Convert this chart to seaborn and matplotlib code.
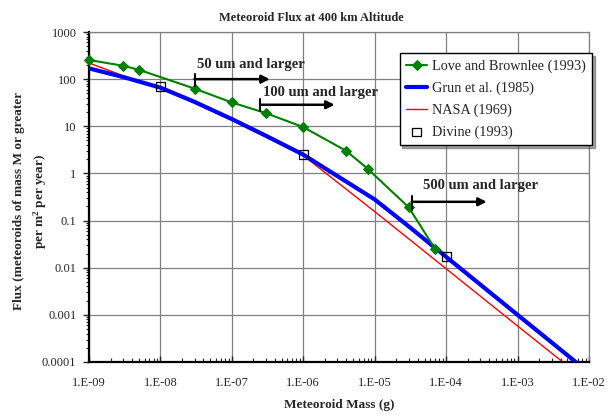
import numpy as np
import pandas as pd
import matplotlib
matplotlib.use("Agg")
import matplotlib.pyplot as plt
import seaborn as sns

# Values
love_mass = [1e-9, 3e-9, 5e-9, 3e-8, 1e-7, 3e-7, 1e-6, 4e-6, 8e-6, 3e-5, 7e-5]
love_flux = [255, 192, 158, 63, 32, 19, 9.6, 3.0, 1.25, 0.19, 0.025]

grun_mass = [1e-9, 3e-9, 1e-8, 3e-8, 1e-7, 3e-7, 1e-6, 3e-6, 1e-5, 3e-5, 1e-4, 3e-4, 1e-3, 3e-3, 1e-2]
grun_flux = [169, 111, 66, 33, 14.2, 6.3, 2.5, 0.88, 0.28, 0.075, 0.017, 0.0044, 0.001, 0.00026, 0.000059]

nasa_mass = [1e-9, 3e-9, 1e-8, 3e-8, 1e-7, 3e-7, 1e-6, 1e-5, 1e-4, 1e-3, 1e-2]
nasa_flux = [220, 118, 66, 31, 13.5, 5.9, 2.4, 0.155, 0.0095, 0.00058, 0.000036]

divine_mass = [1e-8, 1e-6, 1e-4]
divine_flux = [70, 2.5, 0.017]

xtick_vals = [1e-9, 1e-8, 1e-7, 1e-6, 1e-5, 1e-4, 1e-3, 1e-2]
xtick_labels = ["1.E-09", "1.E-08", "1.E-07", "1.E-06", "1.E-05", "1.E-04", "1.E-03", "1.E-02"]
ytick_vals = [1e-4, 1e-3, 1e-2, 1e-1, 1, 10, 100, 1000]
ytick_labels = ["0.0001", "0.001", "0.01", "0.1", "1", "10", "100", "1000"]

# size-threshold annotations
ann_labels = ["50 um and larger", "100 um and larger", "500 um and larger"]
ann_start = [3e-8, 2.5e-7, 3.3e-5]
ann_end = [3.4e-7, 2.75e-6, 3.7e-4]
ann_y = [100, 28.6, 0.25]
ann_bar_lo = [70, 20.6, 0.166]
ann_bar_hi = [130, 37.8, 0.335]
ann_text_x = [3.2e-8, 2.75e-7, 4.7e-5]
ann_text_y = [205, 51, 0.55]

sns.set_theme(style="white")
plt.rcParams["font.family"] = ["Liberation Serif", "DejaVu Serif"]
plt.rcParams["mathtext.default"] = "regular"

fig = plt.figure(figsize=(6.15, 4.17), dpi=100)
ax = fig.add_axes([89 / 615, 1 - 362 / 417, 500 / 615, 330 / 417])
ax.set_xscale("log")
ax.set_yscale("log")

love = pd.DataFrame({"mass": love_mass, "flux": love_flux})
grun = pd.DataFrame({"mass": grun_mass, "flux": grun_flux})
nasa = pd.DataFrame({"mass": nasa_mass, "flux": nasa_flux})
divine = pd.DataFrame({"mass": divine_mass, "flux": divine_flux})

sns.lineplot(data=love, x="mass", y="flux", ax=ax, color="#008000", lw=1.5,
             marker="D", markersize=5.5, markeredgecolor="#008000",
             label="Love and Brownlee (1993)", zorder=4, clip_on=False)
sns.lineplot(data=grun, x="mass", y="flux", ax=ax, color="#0000ff", lw=3,
             label="Grun et al. (1985)", zorder=3)
sns.lineplot(data=nasa, x="mass", y="flux", ax=ax, color="#ff0000", lw=1,
             label="NASA (1969)", zorder=2)
sns.scatterplot(data=divine, x="mass", y="flux", ax=ax, marker="s", s=40,
                facecolor="none", edgecolor="black", linewidth=0.9,
                label="Divine (1993)", zorder=5)

for lab, x0, x1, y, lo, hi, tx, ty in zip(ann_labels, ann_start, ann_end, ann_y,
                                          ann_bar_lo, ann_bar_hi, ann_text_x, ann_text_y):
    ax.annotate("", xy=(x1, y), xytext=(x0, y),
                arrowprops=dict(arrowstyle="-|>", color="black", lw=1.8,
                                mutation_scale=12, shrinkA=0, shrinkB=0), zorder=6)
    ax.plot([x0, x0], [lo, hi], color="black", lw=1.5, zorder=6)
    ax.text(tx, ty, lab, fontsize=10.5, fontweight="bold", va="center", ha="left", zorder=6)

ax.set_xlim(1e-9, 1e-2)
ax.set_ylim(1e-4, 1e3)
ax.set_xticks(xtick_vals)
ax.set_xticklabels(xtick_labels, fontsize=9)
ax.set_yticks(ytick_vals)
ax.set_yticklabels(ytick_labels, fontsize=9)
ax.tick_params(axis="x", which="both", direction="in", bottom=True, pad=11)
ax.tick_params(axis="x", which="major", length=4, width=1)
ax.tick_params(axis="x", which="minor", length=3, width=0.8)
ax.tick_params(axis="y", which="both", direction="out", left=True, pad=5)
ax.tick_params(axis="y", which="major", length=4, width=1)
ax.tick_params(axis="y", which="minor", length=2.5, width=0.8)
ax.grid(True, which="major", color="#808080", lw=0.9)
ax.set_axisbelow(True)

for side in ["left", "bottom"]:
    ax.spines[side].set_color("black")
    ax.spines[side].set_linewidth(1.6)
for side in ["top", "right"]:
    ax.spines[side].set_color("#808080")
    ax.spines[side].set_linewidth(0.9)

ax.set_xlabel("")
ax.set_ylabel("")

leg = ax.legend(loc="upper right", bbox_to_anchor=(1.006, 0.937), borderaxespad=0,
                fontsize=10.3, frameon=True, fancybox=False, shadow=True,
                edgecolor="black", framealpha=1, handlelength=1.5,
                handletextpad=0.3, labelspacing=0.6, borderpad=0.45)
leg.get_frame().set_linewidth(1.0)

fig.text(0.506, 0.958, "Meteoroid Flux at 400 km Altitude", fontsize=9,
         fontweight="bold", ha="center", va="center")
fig.text(339 / 615, 1 - 405 / 417, "Meteoroid Mass (g)", fontsize=9.5,
         fontweight="bold", ha="center", va="center")
fig.text(31 / 615, 1 - 201 / 417,
         "Flux (meteoroids of mass M or greater\nper m$^2$ per year)",
         fontsize=9.5, fontweight="bold", ha="center", va="center",
         rotation=90, linespacing=1.5, multialignment="center")

fig.savefig("out.png", dpi=100)
